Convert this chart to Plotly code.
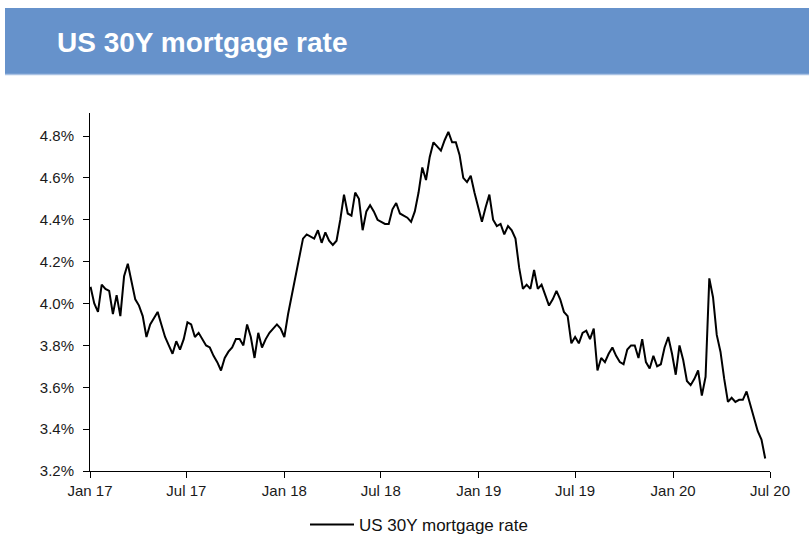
import pandas as pd
import plotly.graph_objects as go

# Weekly US 30-year fixed mortgage rate (%), Jan 2017 - Jun 2020
start_date = "2017-01-02"
rate = [
    4.08, 4.00, 3.96, 4.09, 4.07, 4.06, 3.95, 4.04, 3.94, 4.13,
    4.19, 4.10, 4.02, 3.99, 3.94, 3.84, 3.90, 3.93, 3.96, 3.90,
    3.84, 3.80, 3.76, 3.82, 3.78, 3.83, 3.91, 3.90, 3.84, 3.86,
    3.83, 3.80, 3.79, 3.75, 3.72, 3.68, 3.74, 3.77, 3.79, 3.83,
    3.83, 3.80, 3.90, 3.84, 3.74, 3.86, 3.79, 3.83, 3.86, 3.88,
    3.90, 3.88, 3.84, 3.95, 4.04, 4.13, 4.21, 4.31, 4.33, 4.32,
    4.31, 4.35, 4.29, 4.34, 4.30, 4.28, 4.30, 4.40, 4.52, 4.43,
    4.42, 4.53, 4.50, 4.35, 4.44, 4.47, 4.44, 4.40, 4.39, 4.38,
    4.38, 4.45, 4.48, 4.43, 4.42, 4.41, 4.39, 4.44, 4.53, 4.65,
    4.59, 4.70, 4.77, 4.75, 4.73, 4.78, 4.82, 4.77, 4.77, 4.71,
    4.60, 4.58, 4.61, 4.53, 4.46, 4.39, 4.46, 4.52, 4.40, 4.37,
    4.38, 4.33, 4.37, 4.35, 4.31, 4.17, 4.07, 4.09, 4.07, 4.16,
    4.07, 4.09, 4.04, 3.99, 4.02, 4.06, 4.02, 3.96, 3.94, 3.81,
    3.84, 3.81, 3.86, 3.87, 3.83, 3.88, 3.68, 3.74, 3.72, 3.76,
    3.79, 3.75, 3.72, 3.71, 3.78, 3.80, 3.80, 3.74, 3.83, 3.72,
    3.69, 3.75, 3.70, 3.71, 3.79, 3.84, 3.76, 3.66, 3.80, 3.73,
    3.63, 3.61, 3.64, 3.68, 3.56, 3.65, 4.12, 4.03, 3.85, 3.77,
    3.64, 3.53, 3.55, 3.53, 3.54, 3.54, 3.58, 3.52, 3.46, 3.39,
    3.35, 3.26,
]
dates = pd.date_range(start_date, periods=len(rate), freq="7D")

tick_dates = ["2017-01-01", "2017-07-01", "2018-01-01", "2018-07-01",
              "2019-01-01", "2019-07-01", "2020-01-01", "2020-07-01"]
tick_text = ["Jan 17", "Jul 17", "Jan 18", "Jul 18",
             "Jan 19", "Jul 19", "Jan 20", "Jul 20"]
y_ticks = [3.2, 3.4, 3.6, 3.8, 4.0, 4.2, 4.4, 4.6, 4.8]
y_tick_text = ["3.2%", "3.4%", "3.6%", "3.8%", "4.0%",
               "4.2%", "4.4%", "4.6%", "4.8%"]

title = "US 30Y mortgage rate"
series_name = "US 30Y mortgage rate"

# Page geometry
W, H = 809, 540
ML, MR, MT, MB = 90, 39, 113, 69
PW, PH = W - ML - MR, H - MT - MB


def px_x(x):
    return (x - ML) / PW


def px_y(y):
    return (H - MB - y) / PH


FONT = "Liberation Sans, Arial, sans-serif"

fig = go.Figure()
fig.add_trace(go.Scatter(
    x=dates, y=rate, mode="lines", name=series_name,
    line=dict(color="#000000", width=2),
))

fig.update_layout(
    width=W, height=H,
    margin=dict(l=ML, r=MR, t=MT, b=MB, autoexpand=False),
    paper_bgcolor="white", plot_bgcolor="white",
    font=dict(family=FONT, size=15, color="#1a1a1a"),
    showlegend=True,
    legend=dict(
        orientation="h", x=px_x(305), y=px_y(525), xanchor="left", yanchor="middle",
        font=dict(size=17, color="#111111"), bgcolor="rgba(0,0,0,0)",
        itemwidth=44,
    ),
    xaxis=dict(
        range=["2017-01-01", "2020-07-01"],
        tickvals=tick_dates, ticktext=tick_text,
        showgrid=False, zeroline=False,
        showline=True, linecolor="#000000", linewidth=1,
        ticks="outside", ticklen=6, tickcolor="#000000", tickwidth=1,
        tickfont=dict(size=15, color="#1a1a1a"),
    ),
    yaxis=dict(
        range=[3.2, 4.91],
        tickvals=y_ticks, ticktext=y_tick_text,
        showgrid=False, zeroline=False,
        showline=True, linecolor="#000000", linewidth=1,
        ticks="outside", ticklen=6, tickcolor="#000000", tickwidth=1,
        tickfont=dict(size=15, color="#1a1a1a"),
        ticklabelstandoff=6,
    ),
    shapes=[
        dict(type="rect", xref="paper", yref="paper",
             x0=px_x(5), x1=px_x(W), y0=px_y(74), y1=px_y(8),
             fillcolor="#6692CB", line=dict(width=0), layer="below"),
        dict(type="line", xref="paper", yref="paper",
             x0=px_x(5), x1=px_x(W), y0=px_y(74.5), y1=px_y(74.5),
             line=dict(color="#A9C1E3", width=1.5)),
    ],
    annotations=[
        dict(text=title, xref="paper", yref="paper",
             x=px_x(55), y=px_y(42), xanchor="left", yanchor="middle",
             showarrow=False,
             font=dict(family=FONT, size=28, color="white", weight="bold")),
    ],
)

fig.write_html("out.html")
